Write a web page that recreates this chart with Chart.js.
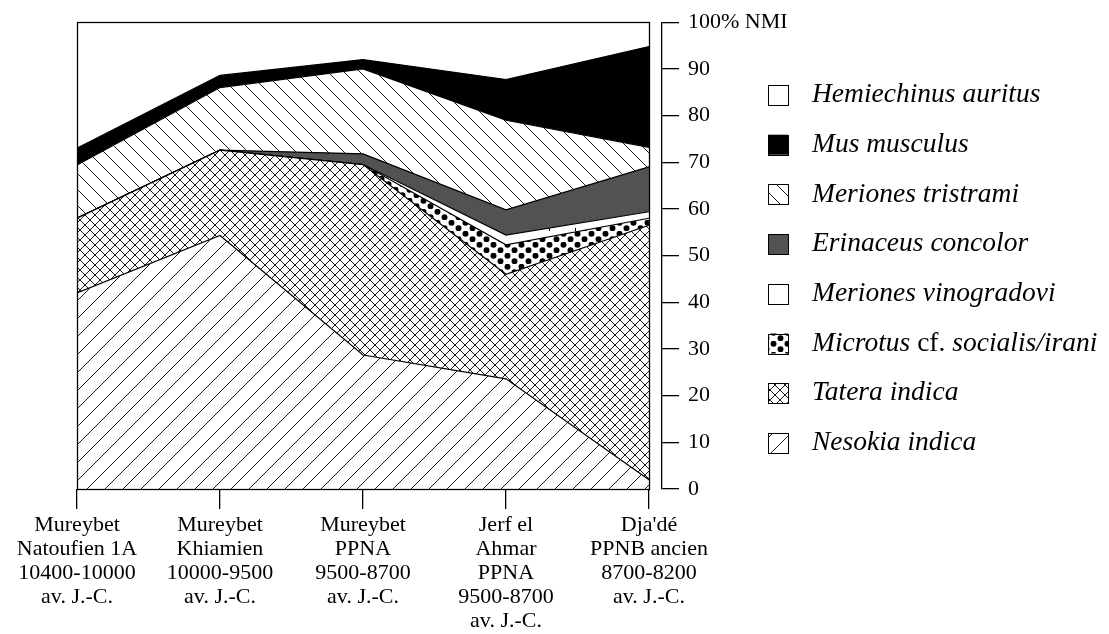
<!DOCTYPE html>
<html>
<head>
<meta charset="utf-8">
<script src="https://cdn.jsdelivr.net/npm/chart.js@4.4.1/dist/chart.umd.min.js"></script>
<style>
  html, body { margin: 0; padding: 0; background: #fff; }
</style>
</head>
<body>
<canvas id="nmi-chart" width="1109" height="634"></canvas>
<script>
// sites and periods along the x axis (one array entry per text line)
const sites = [
  ['Mureybet', 'Natoufien 1A', '10400-10000', 'av. J.-C.'],
  ['Mureybet', 'Khiamien', '10000-9500', 'av. J.-C.'],
  ['Mureybet', 'PPNA', '9500-8700', 'av. J.-C.'],
  ['Jerf el', 'Ahmar', 'PPNA', '9500-8700', 'av. J.-C.'],
  ["Dja'dé", 'PPNB ancien', '8700-8200', 'av. J.-C.']
];

// % NMI per taxon, bottom of the stack first
const nesokia     = [42.0, 54.3, 28.7, 23.6, 2.0];
const tatera      = [16.0, 18.3, 40.8, 22.4, 54.5];
const microtus    = [0, 0, 0, 6.3, 1.5];
const vinogradovi = [0, 0, 0, 2.1, 1.4];
const erinaceus   = [0, 0, 2.3, 5.4, 9.6];
const tristrami   = [11.4, 13.4, 18.2, 19.2, 4.2];
const mus         = [3.6, 2.6, 2.0, 8.7, 21.6];
const hemiechinus = [27.0, 11.4, 8.0, 12.3, 5.2];

const yTicks = [0, 10, 20, 30, 40, 50, 60, 70, 80, 90, 100];

// ---- fill patterns ----
function tile(w, h, draw) {
  const c = document.createElement('canvas');
  c.width = w; c.height = h;
  const g = c.getContext('2d');
  g.fillStyle = '#fff';
  g.fillRect(0, 0, w, h);
  g.strokeStyle = '#1a1a1a';
  g.fillStyle = '#000';
  g.lineWidth = 1;
  draw(g, w, h);
  return c.getContext('2d').createPattern(c, 'repeat');
}

function slashes(p, forward) {
  return tile(p, p, (g) => {
    g.beginPath();
    if (forward) {
      g.moveTo(0, p); g.lineTo(p, 0);
      g.moveTo(-1, 1); g.lineTo(1, -1);
      g.moveTo(p - 1, p + 1); g.lineTo(p + 1, p - 1);
    } else {
      g.moveTo(0, 0); g.lineTo(p, p);
      g.moveTo(p - 1, -1); g.lineTo(p + 1, 1);
      g.moveTo(-1, p - 1); g.lineTo(1, p + 1);
    }
    g.stroke();
  });
}

const patNesokia = slashes(18, true);
const patTristrami = slashes(16, false);
const patTatera = tile(10, 10, (g, p) => {
  g.beginPath();
  g.moveTo(0, 0); g.lineTo(p, p);
  g.moveTo(0, p); g.lineTo(p, 0);
  g.stroke();
});
const patMicrotus = tile(14, 11, (g) => {
  g.beginPath();
  g.arc(3.5, 2.75, 3, 0, Math.PI * 2);
  g.closePath();
  g.moveTo(13.5, 8.25);
  g.arc(10.5, 8.25, 3, 0, Math.PI * 2);
  g.fill();
});
const patVinogradovi = tile(26, 26, (g) => {
  g.fillRect(3, 20, 1, 3);
});

function series(label, values, fill, bg) {
  return {
    label: label,
    data: values.map((v, i) => ({ x: i, y: v })),
    backgroundColor: bg,
    borderColor: '#000',
    borderWidth: 1.2,
    pointRadius: 0,
    tension: 0,
    fill: fill
  };
}

// frame round the plot and the bottom axis line
const framePlugin = {
  id: 'frame',
  afterDatasetsDraw(chart) {
    const { ctx, scales: { x, y } } = chart;
    const x0 = Math.round(x.getPixelForValue(0)) + 0.5;
    const x1 = Math.round(x.getPixelForValue(sites.length - 1)) + 0.5;
    const yT = Math.round(y.getPixelForValue(100)) + 0.5;
    const yB = Math.round(y.getPixelForValue(0)) + 0.5;
    ctx.save();
    ctx.strokeStyle = '#000';
    ctx.lineWidth = 1.3;
    ctx.strokeRect(x0, yT, x1 - x0, yB - yT);
    ctx.restore();
  }
};

// legend with top layer first, genus/species in italics
const legendPlugin = {
  id: 'sideLegend',
  afterDraw(chart) {
    const ctx = chart.ctx;
    const items = chart.data.datasets.slice().reverse();
    const boxX = 768, textX = 812, top = 95, step = 49.7, box = 20;
    ctx.save();
    ctx.textBaseline = 'middle';
    items.forEach((ds, i) => {
      const cy = top + i * step;
      ctx.fillStyle = ds.backgroundColor;
      ctx.fillRect(boxX, cy - box / 2, box, box);
      ctx.strokeStyle = '#000';
      ctx.lineWidth = 1;
      ctx.strokeRect(boxX + 0.5, Math.round(cy - box / 2) + 0.5, box, box);
      let tx = textX;
      ctx.fillStyle = '#000';
      ds.label.split(' ').forEach((word, k) => {
        ctx.font = (word === 'cf.' ? '' : 'italic ') + '27.5px "Liberation Serif"';
        if (k > 0) tx += ctx.measureText(' ').width;
        ctx.fillText(word, tx, cy);
        tx += ctx.measureText(word).width;
      });
    });
    ctx.restore();
  }
};

Chart.defaults.font.family = '"Liberation Serif", "Times New Roman", serif';
Chart.defaults.color = '#000';

new Chart(document.getElementById('nmi-chart'), {
  type: 'line',
  data: {
    datasets: [
      series('Nesokia indica', nesokia, 'origin', patNesokia),
      series('Tatera indica', tatera, '-1', patTatera),
      series('Microtus cf. socialis/irani', microtus, '-1', patMicrotus),
      series('Meriones vinogradovi', vinogradovi, '-1', patVinogradovi),
      series('Erinaceus concolor', erinaceus, '-1', '#525252'),
      series('Meriones tristrami', tristrami, '-1', patTristrami),
      series('Mus musculus', mus, '-1', '#000'),
      series('Hemiechinus auritus', hemiechinus, '-1', '#fff')
    ]
  },
  options: {
    responsive: false,
    animation: false,
    devicePixelRatio: 1,
    layout: { padding: { left: 77, top: 19, right: 317, bottom: 0 } },
    plugins: {
      legend: { display: false },
      tooltip: { enabled: false }
    },
    scales: {
      x: {
        type: 'linear',
        min: 0,
        max: 4.091,
        afterBuildTicks: (s) => { s.ticks = sites.map((_, i) => ({ value: i })); },
        afterFit: (s) => { s.height = 145; },
        grid: { drawOnChartArea: false, drawTicks: true, tickLength: 20, color: '#000', lineWidth: 1.3 },
        border: { display: false },
        ticks: {
          callback: (v, i) => sites[i],
          font: { size: 22, lineHeight: '24px' },
          padding: 4,
          maxRotation: 0,
          autoSkip: false
        }
      },
      y: {
        position: 'right',
        stacked: true,
        min: 0,
        max: 100,
        afterBuildTicks: (s) => { s.ticks = yTicks.map(v => ({ value: v })); },
        afterFit: (s) => { s.width = 130; },
        grid: { drawOnChartArea: false, tickLength: 17, color: '#000', lineWidth: 1.3 },
        border: { display: true, color: '#000', width: 1.3 },
        ticks: {
          callback: (v) => v === 100 ? '100% NMI' : v,
          font: { size: 22 },
          padding: 9
        }
      }
    }
  },
  plugins: [framePlugin, legendPlugin]
});
</script>
</body>
</html>
